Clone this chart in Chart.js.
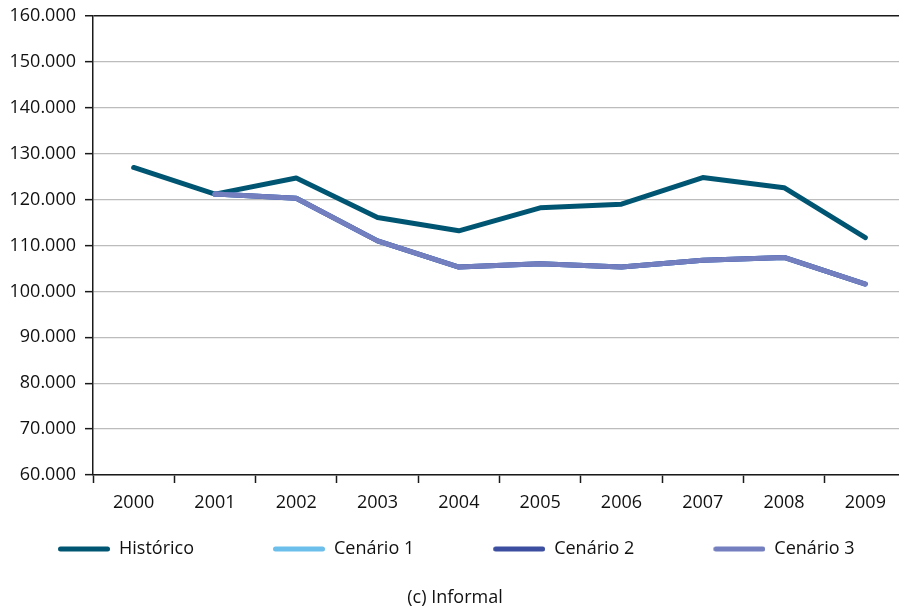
<!DOCTYPE html>
<html><head><meta charset="utf-8">
<script src="https://cdn.jsdelivr.net/npm/chart.js@4/dist/chart.umd.min.js"></script>
<style>html,body{margin:0;padding:0;overflow:hidden;background:#fff;width:899px;height:606px}#wrap{position:absolute;left:-21px;top:0;width:952px;height:608px}</style>
</head><body><div id="wrap"><canvas id="c" width="952" height="608"></canvas></div>
<script>
const categories = ['2000','2001','2002','2003','2004','2005','2006','2007','2008','2009'];
const historico = [127000,121200,124700,116100,113200,118200,119000,124800,122600,111700];
const cenario1 = [null,121200,120300,111000,105300,106000,105300,106800,107400,101600];
const cenario2 = [null,121200,120300,111000,105300,106000,105300,106800,107400,101600];
const cenario3 = [null,121200,120300,111000,105300,106000,105300,106800,107400,101600];
const seriesNames = ['Histórico','Cenário 1','Cenário 2','Cenário 3'];
const colors = ['#005672','#6cbfea','#3b4ea0','#737fbf'];
const yMin = 60000, yMax = 160000, yStep = 10000;
const FONT = 'Open Sans';
const FS = 18;
const TXT = '#111111';

// legend swatch: a line drawn at the right end of a wider transparent box
const SW_LINE = 52, SW_GAP = 69, SW_W = SW_LINE + SW_GAP;
function swatch(color) {
  const c = document.createElement('canvas');
  c.width = SW_W; c.height = 6;
  const g = c.getContext('2d');
  g.strokeStyle = color; g.lineWidth = 5; g.lineCap = 'round';
  g.beginPath(); g.moveTo(SW_GAP + 2.5, 3); g.lineTo(SW_W - 2.5, 3); g.stroke();
  return c;
}

const mk = (i, data) => ({label: seriesNames[i], data, borderColor: colors[i], backgroundColor: colors[i],
  borderWidth: 5, pointRadius: 0, tension: 0, borderCapStyle: 'round', borderJoinStyle: 'round', spanGaps: false, _idx: i});

new Chart(document.getElementById('c'), {
  type: 'line',
  data: {labels: categories, datasets: [mk(3, cenario3), mk(2, cenario2), mk(1, cenario1), mk(0, historico)]},
  options: {
    responsive: false, animation: false,
    layout: {padding: {left: 0, right: 0, top: 16, bottom: 1}},
    plugins: {
      legend: {position: 'bottom', align: 'start',
        labels: {usePointStyle: true, pointStyleWidth: SW_W, padding: 10, color: TXT, font: {family: FONT, size: FS},
          generateLabels(chart) {
            return chart.data.datasets.map((d, i) => ({text: d.label, pointStyle: swatch(d.borderColor), fillStyle: d.borderColor, strokeStyle: d.borderColor, lineWidth: 0, datasetIndex: i, hidden: false, fontColor: TXT, _o: d._idx}))
              .sort((a, b) => a._o - b._o);
          }}},
      title: {display: true, position: 'bottom', text: '(c) Informal', color: TXT, font: {family: FONT, size: FS, weight: 'normal', lineHeight: 1.0}, padding: {top: 21, bottom: 0}},
      tooltip: {enabled: false}
    },
    scales: {
      x: {offset: true,
        afterFit(s) { s.height = 55; },
        grid: {offset: true, drawOnChartArea: false, drawTicks: true, tickLength: 8, tickColor: '#1a1a1a', tickWidth: 1.5},
        border: {color: '#1a1a1a', width: 1.5},
        ticks: {color: TXT, font: {family: FONT, size: FS}, padding: 9, maxRotation: 0, autoSkip: false}},
      y: {min: yMin, max: yMax,
        afterFit(s) { s.width = 114; s.paddingTop = 0; s.paddingBottom = 0; },
        grid: {color: ctx => ctx.tick && ctx.tick.value === yMax ? '#1a1a1a' : '#bcbcbc', lineWidth: ctx => ctx.tick && ctx.tick.value === yMax ? 1.5 : 1.3, tickLength: 8, tickColor: '#1a1a1a', tickWidth: 1.5},
        border: {color: '#1a1a1a', width: 1.5},
        ticks: {stepSize: yStep, color: TXT, font: {family: FONT, size: FS}, padding: 9,
          callback: v => v.toLocaleString('de-DE', {minimumFractionDigits: 0}).replace(',', '.')}},
      yRight: {position: 'right', display: true, min: 0, max: 1,
        afterFit(s) { s.width = 25; s.paddingTop = 0; s.paddingBottom = 0; },
        grid: {display: false, drawTicks: false}, border: {display: false}, ticks: {display: false}}
    }
  }
});
</script></body></html>
